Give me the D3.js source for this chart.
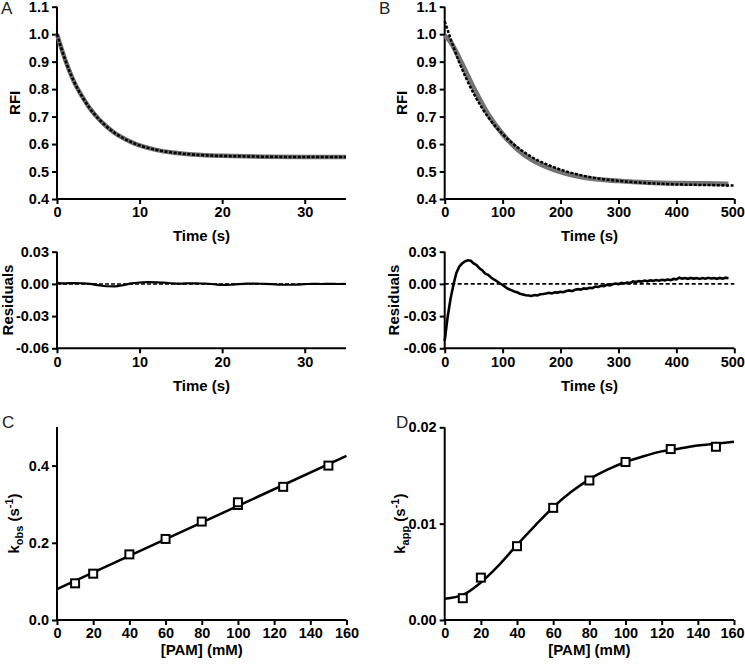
<!DOCTYPE html>
<html><head><meta charset="utf-8">
<script src="https://cdn.jsdelivr.net/npm/d3@7"></script>
<style>
body{margin:0;background:#fff;}
svg{display:block;font-family:Arial,"Liberation Sans",sans-serif;}
.tick text{font-weight:bold;font-size:14.5px;fill:#000;}
.title{font-weight:bold;font-size:15px;fill:#000;}
.letter{font-size:17px;fill:#222;}
</style></head><body>
<svg id="c" width="745" height="666"></svg>
<script>
// ---- Panel A (fast decay, 0-35 s) ----
const aTime  = [0,1,2,3,4,5,6,7,8,9,10,12,14,16,18,20,25,30,35];
const aData  = [1.0,0.906,0.831,0.775,0.729,0.693,0.664,0.640,0.622,0.607,0.595,0.579,0.569,0.563,0.559,0.557,0.554,0.553,0.553];
const aFit   = [1.0,0.906,0.831,0.775,0.729,0.693,0.664,0.640,0.622,0.607,0.595,0.579,0.569,0.563,0.559,0.557,0.554,0.553,0.553];
const aResT  = [0,1,2,3,4,5,6,7,8,9,10,11,12,13,14,15,16,17,18,19,20,21,22,23,24,25,26,27,28,29,30,31,32,33,34,35];
const aRes   = [0.001,0.0005,0.0008,0.0006,0.0001,-0.0012,-0.0022,-0.0023,-0.0012,0.0005,0.0013,0.0016,0.0015,0.0012,0.0004,0.0002,0.0006,0.0004,0.0003,-0.0003,-0.001,-0.0008,-0.0002,0.0002,0.0003,0.0001,-0.0002,-0.0006,-0.0008,-0.0006,-0.0002,0.0001,-0.0001,0,-0.0001,0];

// ---- Panel B (slow decay, 0-500 s) ----
const bDataT = [0,10,25,50,75,100,125,150,175,200,250,300,350,400,450,490];
const bData  = [0.995,0.972,0.913,0.804,0.708,0.636,0.582,0.543,0.518,0.499,0.475,0.466,0.460,0.457,0.456,0.455];
const bFitT  = [0,25,50,75,100,125,150,175,200,250,300,350,400,450,500];
const bFit   = [1.047,0.898,0.784,0.698,0.636,0.589,0.553,0.527,0.507,0.480,0.466,0.458,0.453,0.451,0.449];
const bResT  = [0,5,10,15,20,25,30,35,40,45,50,55,60,65,70,75,80,85,90,95,100,105,110,115,120,125,130,135,140,145,150,155,160,165,170,175,180,185,190,195,200,205,210,215,220,225,230,235,240,245,250,255,260,265,270,275,280,285,290,295,300,305,310,315,320,325,330,335,340,345,350,355,360,365,370,375,380,385,390,395,400,405,410,415,420,425,430,435,440,445,450,455,460,465,470,475,480,485,490];
const bRes   = [-0.053,-0.031,-0.014,-0.001,0.010,0.016,0.019,0.021,0.022,0.0215,0.019,0.0175,0.0145,0.0125,0.0095,0.0085,0.006,0.0042,0.0025,0.0006,-0.001,-0.003,-0.0048,-0.0058,-0.007,-0.0078,-0.0092,-0.0098,-0.0105,-0.0108,-0.0112,-0.0104,-0.0108,-0.0097,-0.0094,-0.009,-0.0083,-0.0089,-0.0079,-0.0081,-0.0073,-0.0078,-0.0066,-0.0061,-0.0068,-0.0055,-0.0049,-0.0053,-0.0042,-0.0046,-0.0036,-0.0039,-0.0025,-0.0029,-0.0017,-0.002,-0.0008,-0.0013,-0.0003,0.0004,-0.0002,0.0009,0.0004,0.0013,0.0008,0.0024,0.0017,0.0026,0.0021,0.0031,0.0024,0.0033,0.0028,0.0036,0.003,0.0038,0.0033,0.0041,0.0035,0.0046,0.0042,0.0058,0.0049,0.0055,0.0047,0.0056,0.0049,0.0054,0.0046,0.0055,0.0048,0.0057,0.005,0.0054,0.0047,0.0056,0.0049,0.0058,0.0052];

// ---- Panel C (kobs vs [PAM]) ----
const cPam   = [10,20,40,60,80,100,100,125,150];
const cKobs  = [0.095,0.12,0.17,0.21,0.255,0.298,0.305,0.345,0.40];
const cFitX  = [0,160];
const cFitY  = [0.080,0.425];

// ---- Panel D (kapp vs [PAM]) ----
const dPam   = [10,20,40,60,80,100,125,150];
const dKapp  = [0.00226,0.0044,0.00766,0.01164,0.01448,0.0164,0.01774,0.01798];
const dFitX  = [0,10,20,30,40,50,60,70,80,90,100,110,120,130,140,150,160];
const dFitY  = [0.0022,0.0026,0.0039,0.0057,0.0078,0.0098,0.0117,0.0133,0.0146,0.0156,0.0164,0.0170,0.0175,0.0178,0.0181,0.0183,0.0185];

// tick values
const ticksRFI = [0.4,0.5,0.6,0.7,0.8,0.9,1.0,1.1];
const ticksRes = [-0.06,-0.03,0,0.03];
const ticksTA  = [0,10,20,30];
const ticksTB  = [0,100,200,300,400,500];
const ticksPam = [0,20,40,60,80,100,120,140,160];
const ticksC   = [0,0.2,0.4];
const ticksD   = [0,0.01,0.02];

const svg = d3.select('#c');

function axes(g, x, y, xt, yt, xf, yf, nudgeLast){
  const xa = g.append('g').attr('transform',`translate(0,${y.range()[0]})`)
    .call(d3.axisBottom(x).tickValues(xt).tickFormat(xf).tickSizeOuter(0).tickSize(5).tickPadding(3));
  const ya = g.append('g').attr('transform',`translate(${x.range()[0]},0)`)
    .call(d3.axisLeft(y).tickValues(yt).tickFormat(yf).tickSizeOuter(0).tickSize(5).tickPadding(3));
  [xa,ya].forEach(a=>{
    a.select('.domain').attr('stroke','#000').attr('stroke-width',2);
    a.selectAll('.tick line').attr('stroke','#000').attr('stroke-width',2);
    a.attr('font-family',null).attr('font-size',null);
  });
  xa.select('.domain').attr('d',`M${x.range()[0]-1},0H${x.range()[1]}`);
  ya.select('.domain').attr('d',`M0,${y.range()[0]+1}V${y.range()[1]}`);
  if(nudgeLast){
    xa.selectAll('.tick text').filter((d,i,n)=> i===n.length-1).attr('dx',-2);
  }
}
function xTitle(x, yPos, txt){
  svg.append('text').attr('class','title').attr('x',(x.range()[0]+x.range()[1])/2).attr('y',yPos)
    .attr('text-anchor','middle').text(txt);
}
function yTitle(xPos, y, txt){
  return svg.append('text').attr('class','title')
    .attr('transform',`translate(${xPos},${(y.range()[0]+y.range()[1])/2}) rotate(-90)`)
    .attr('text-anchor','middle').text(txt);
}
const f1 = d3.format('.1f'), f2 = d=> d3.format('.2f')(d).replace('−','-'), f0 = d3.format('d');

// scales
const xA = d3.scaleLinear().domain([0,35]).range([57,346]);
const xB = d3.scaleLinear().domain([0,500]).range([444.7,734.3]);
const yTop = d3.scaleLinear().domain([0.4,1.1]).range([199,6.7]);
const yRes = d3.scaleLinear().domain([-0.06,0.03]).range([348.3,251.7]);
const xC = d3.scaleLinear().domain([0,160]).range([57,346.5]);
const xD = d3.scaleLinear().domain([0,160]).range([444.7,734]);
const yC = d3.scaleLinear().domain([0,0.5]).range([620,427]);
const yD = d3.scaleLinear().domain([0,0.02]).range([620,427.3]);

const lineOf = (x,y,curve)=> d3.line().x(d=>x(d[0])).y(d=>y(d[1])).curve(curve||d3.curveMonotoneX);
const zip = (a,b)=> a.map((v,i)=>[v,b[i]]);

// ===== A top =====
axes(svg, xA, yTop, ticksTA, ticksRFI, f0, f1);
svg.append('path').attr('d',lineOf(xA,yTop)(zip(aTime,aData))).attr('fill','none').attr('stroke','#6e6e6e').attr('stroke-width',4.5);
svg.append('path').attr('d',lineOf(xA,yTop)(zip(aTime,aFit))).attr('fill','none').attr('stroke','#000').attr('stroke-width',2.5).attr('stroke-dasharray','3,1.6');
xTitle(xA, 241, 'Time (s)');
yTitle(20, yTop, 'RFI');

// ===== B top =====
axes(svg, xB, yTop, ticksTB, ticksRFI, f0, f1, true);
svg.append('path').attr('d',lineOf(xB,yTop)(zip(bDataT,bData))).attr('fill','none').attr('stroke','#737373').attr('stroke-width',5);
svg.append('path').attr('d',lineOf(xB,yTop)(zip(bFitT,bFit))).attr('fill','none').attr('stroke','#000').attr('stroke-width',2.5).attr('stroke-dasharray','3,1.6');
xTitle(xB, 241, 'Time (s)');
yTitle(407, yTop, 'RFI');

// ===== A residuals =====
axes(svg, xA, yRes, ticksTA, ticksRes, f0, f2);
svg.append('line').attr('x1',xA(0)).attr('x2',xA(35)).attr('y1',yRes(0)).attr('y2',yRes(0)).attr('stroke','#000').attr('stroke-width',1.5).attr('stroke-dasharray','4,2');
svg.append('path').attr('d',lineOf(xA,yRes)(zip(aResT,aRes))).attr('fill','none').attr('stroke','#000').attr('stroke-width',2.2);
xTitle(xA, 391, 'Time (s)');
yTitle(13, yRes, 'Residuals');

// ===== B residuals =====
axes(svg, xB, yRes, ticksTB, ticksRes, f0, f2, true);
svg.append('line').attr('x1',xB(0)).attr('x2',xB(500)).attr('y1',yRes(0)).attr('y2',yRes(0)).attr('stroke','#000').attr('stroke-width',1.8).attr('stroke-dasharray','4,2.5');
svg.append('path').attr('d',lineOf(xB,yRes,d3.curveLinear)(zip(bResT,bRes))).attr('fill','none').attr('stroke','#000').attr('stroke-width',2.6);
xTitle(xB, 391, 'Time (s)');
yTitle(399, yRes, 'Residuals');

// ===== C =====
axes(svg, xC, yC, ticksPam, ticksC, f0, f1);
svg.append('path').attr('d',lineOf(xC,yC,d3.curveLinear)(zip(cFitX,cFitY))).attr('fill','none').attr('stroke','#000').attr('stroke-width',2.5);
svg.selectAll('rect.c').data(zip(cPam,cKobs)).join('rect').attr('class','c')
  .attr('x',d=>xC(d[0])-4).attr('y',d=>yC(d[1])-4).attr('width',8).attr('height',8)
  .attr('fill','#fff').attr('stroke','#000').attr('stroke-width',2);
xTitle(xC, 655, '[PAM] (mM)');
{
  const t = yTitle(19, yC, '');
  t.append('tspan').text('k');
  t.append('tspan').attr('font-size','11px').attr('dy',4).text('obs');
  t.append('tspan').attr('dy',-4).text(' (s');
  t.append('tspan').attr('font-size','11px').attr('dy',-6).text('-1');
  t.append('tspan').attr('dy',6).text(')');
}

// ===== D =====
axes(svg, xD, yD, ticksPam, ticksD, f0, f2, true);
svg.append('path').attr('d',lineOf(xD,yD)(zip(dFitX,dFitY))).attr('fill','none').attr('stroke','#000').attr('stroke-width',2.5);
svg.selectAll('rect.d').data(zip(dPam,dKapp)).join('rect').attr('class','d')
  .attr('x',d=>xD(d[0])-4).attr('y',d=>yD(d[1])-4).attr('width',8).attr('height',8)
  .attr('fill','#fff').attr('stroke','#000').attr('stroke-width',2);
xTitle(xD, 655, '[PAM] (mM)');
{
  const t = yTitle(405, yD, '');
  t.append('tspan').text('k');
  t.append('tspan').attr('font-size','11px').attr('dy',4).text('app');
  t.append('tspan').attr('dy',-4).text(' (s');
  t.append('tspan').attr('font-size','11px').attr('dy',-6).text('-1');
  t.append('tspan').attr('dy',6).text(')');
}

// panel letters
[['A',1,14],['B',379,14],['C',2,428],['D',396,428]].forEach(([l,x,y])=>{
  svg.append('text').attr('class','letter').attr('x',x).attr('y',y).text(l);
});
</script>
</body></html>
